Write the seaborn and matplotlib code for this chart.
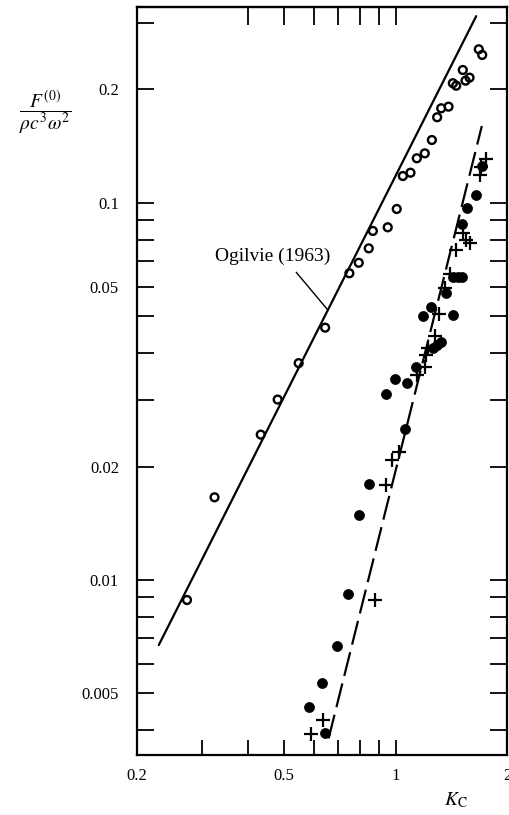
import numpy as np
import pandas as pd
import matplotlib
matplotlib.use("Agg")
import matplotlib.pyplot as plt
import seaborn as sns

# Steady force coefficient against Keulegan-Carpenter number
open_kc = [1.678, 1.714, 1.519, 1.545, 1.584, 1.428, 1.458, 1.295, 1.328, 1.390,
           1.253, 1.141, 1.199, 1.046, 1.097, 1.007, 0.952, 0.868, 0.846, 0.795,
           0.750, 0.645, 0.547, 0.480, 0.432, 0.324, 0.273]
open_f = [0.2557, 0.247, 0.2253, 0.2111, 0.2150, 0.2078, 0.2047, 0.1688, 0.1783, 0.1801,
          0.1469, 0.1314, 0.1354, 0.1179, 0.1203, 0.0964, 0.0862, 0.0843, 0.0758, 0.0694,
          0.0651, 0.0467, 0.0376, 0.0301, 0.0243, 0.01657, 0.00885]

filled_kc = [1.717, 1.644, 1.558, 1.514, 1.425, 1.470, 1.507, 1.366, 1.244, 1.184,
             1.428, 1.328, 1.290, 1.260, 1.137, 0.999, 1.071, 0.943, 1.057, 0.846,
             0.795, 0.742, 0.695, 0.634, 0.585, 0.645]
filled_f = [0.1254, 0.1050, 0.0968, 0.0880, 0.0636, 0.0636, 0.0636, 0.0577, 0.0531, 0.0501,
            0.0504, 0.0429, 0.0420, 0.0412, 0.0367, 0.0342, 0.0333, 0.0311, 0.0252, 0.0180,
            0.01487, 0.00916, 0.00669, 0.00532, 0.00460, 0.00392]

plus_kc = [1.757, 1.696, 1.686, 1.519, 1.552, 1.584, 1.458, 1.399, 1.360, 1.314,
           1.278, 1.225, 1.210, 1.197, 1.139, 1.024, 0.979, 0.939, 0.881, 0.636, 0.591]
plus_f = [0.1308, 0.1246, 0.1186, 0.0834, 0.0798, 0.0782, 0.0749, 0.0648, 0.0594, 0.0508,
          0.0445, 0.0412, 0.0395, 0.0368, 0.0349, 0.0219, 0.0208, 0.0179, 0.00885, 0.00425,
          0.00390]

ogilvie_kc = [0.229, 1.651]
ogilvie_f = [0.00672, 0.313]
fit_kc = [0.659, 1.710]
fit_f = [0.00380, 0.160]

x_major = [0.2, 0.5, 1, 2]
x_major_labels = ["0.2", "0.5", "1", "2"]
x_minor_bottom = [0.3, 0.4, 0.6, 0.7, 0.8, 0.9]
x_top = [0.4, 0.5, 0.6, 0.7, 0.8, 0.9, 1.0]
y_label_at = [0.2, 0.1, 0.06, 0.02, 0.01, 0.005]
y_labels = ["0.2", "0.1", "0.05", "0.02", "0.01", "0.005"]
y_minor = [0.3, 0.09, 0.08, 0.07, 0.05, 0.04, 0.03,
           0.009, 0.008, 0.007, 0.006, 0.004]
annot_kc = 0.656

sns.set_style("ticks")
plt.rcParams["font.family"] = ["Liberation Serif", "DejaVu Serif"]
plt.rcParams["mathtext.fontset"] = "stix"

fig = plt.figure(figsize=(5.09, 8.15), dpi=100)
ax = fig.add_axes([137 / 509, 1 - 755 / 815, 370 / 509, 748 / 815])
ax.set_xscale("log")
ax.set_yscale("log")

sns.lineplot(x=ogilvie_kc, y=ogilvie_f, ax=ax, color="black", lw=1.6,
             estimator=None, sort=False)
sns.lineplot(x=fit_kc, y=fit_f, ax=ax, color="black", lw=1.6,
             estimator=None, sort=False, linestyle=(0, (11, 3.5)))

sns.scatterplot(x=open_kc, y=open_f, ax=ax, marker="o", s=32,
                facecolor="none", edgecolor="black", linewidth=1.7, zorder=3)
sns.scatterplot(x=filled_kc, y=filled_f, ax=ax, marker="o", s=52,
                color="black", edgecolor="black", linewidth=0.5, zorder=3)
sns.scatterplot(x=plus_kc, y=plus_f, ax=ax, marker="+", s=115,
                color="black", linewidth=1.6, zorder=3)

ax.set_xlim(0.2, 2.0)
ax.set_ylim(0.003434, 0.331)

ax.set_xticks(x_major, labels=x_major_labels)
ax.set_xticks(x_minor_bottom, minor=True)
ax.xaxis.set_minor_formatter(matplotlib.ticker.NullFormatter())
ax.set_yticks(y_label_at, labels=y_labels)
ax.set_yticks(y_minor, minor=True)
ax.yaxis.set_minor_formatter(matplotlib.ticker.NullFormatter())

ax.tick_params(axis="both", which="both", direction="in", color="black",
               width=1.3, labelsize=12, labelcolor="black")
ax.tick_params(axis="y", which="both", length=12, right=True, left=True, pad=13)
ax.tick_params(axis="x", which="both", length=11, top=False, bottom=True, pad=9)

top = ax.secondary_xaxis("top")
top.set_xticks(x_top, labels=[""] * len(x_top))
top.xaxis.set_minor_locator(matplotlib.ticker.NullLocator())
top.tick_params(direction="in", length=13, width=1.3, color="black")
top.spines["top"].set_linewidth(1.6)

for s in ax.spines.values():
    s.set_linewidth(1.6)
    s.set_color("black")

# leader from the label to the Ogilvie line
annot_f = 10 ** np.interp(np.log10(annot_kc), np.log10(ogilvie_kc), np.log10(ogilvie_f))
ax.annotate("Ogilvie (1963)", xy=(annot_kc, annot_f), xytext=(0.465, 0.0723),
            ha="center", va="center", fontsize=14, color="black",
            arrowprops=dict(arrowstyle="-", color="black", lw=1.0,
                            relpos=(0.65, 0.0), shrinkA=4, shrinkB=0))

fig.text(45 / 509, 1 - 113 / 815, r"$\dfrac{F^{(0)}}{\rho c^3\omega^2}$",
         ha="center", va="center", fontsize=14, color="black")
fig.text(456 / 509, 1 - 800 / 815, r"$K_\mathrm{C}$",
         ha="center", va="center", fontsize=14, color="black")

fig.savefig("out.png", dpi=100, facecolor="white")
